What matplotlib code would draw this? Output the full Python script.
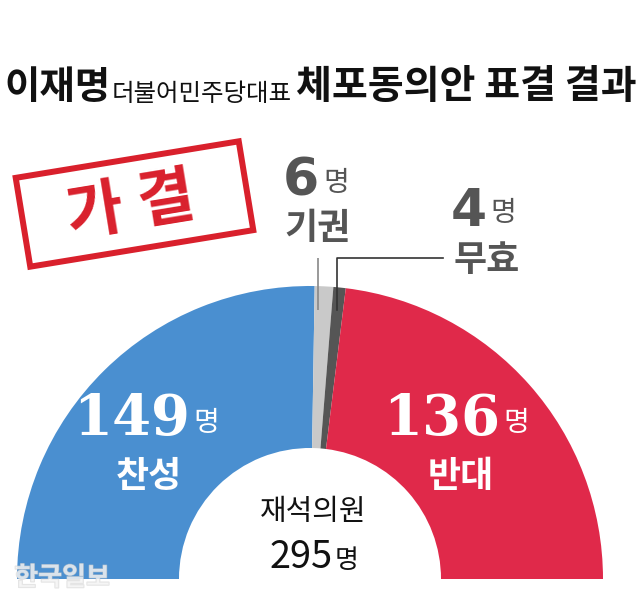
import matplotlib
matplotlib.use("Agg")
import matplotlib.pyplot as plt
from matplotlib.patches import Rectangle
import matplotlib.patheffects as pe

plt.rcParams['font.family'] = ['Noto Sans CJK KR', 'DejaVu Sans']

# ---- data ----
categories = ["찬성", "기권", "무효", "반대"]
votes = [149, 6, 4, 136]
total_present = 295
colors = ["#4a8fd0", "#c9c9c9", "#555555", "#e0294a"]

W, H = 640, 607
fig = plt.figure(figsize=(W / 100, H / 100), dpi=100)
ax = fig.add_axes([0, 0, 1, 1])

def Y(py):
    return H - py

def fs(px):
    return px * 72 / 100

# half donut: hidden lower half
cx, cy = 310, Y(579)
R, r = 293, 131
ax.pie(votes + [sum(votes)], colors=colors + ["none"], startangle=180,
       counterclock=False, radius=R, center=(cx, cy),
       wedgeprops=dict(width=R - r, edgecolor="none", linewidth=0), frame=True)
ax.set_xlim(0, W)
ax.set_ylim(0, H)
ax.set_aspect("equal")
ax.axis("off")

# ---- title ----
ty = Y(87)
ax.text(4, ty, "이재명", fontsize=fs(38.5), fontweight="black", color="#111111",
        ha="left", va="center")
ax.text(112, Y(94), "더불어민주당대표", fontsize=fs(24.5), fontweight="medium",
        color="#111111", ha="left", va="center")
ax.text(296, ty, "체포동의안 표결 결과", fontsize=fs(39), fontweight="black",
        color="#111111", ha="left", va="center")

# ---- stamp ----
stamp_c = "#d9202c"
rect = Rectangle((134.5 - 113, Y(204) - 45), 226, 90, angle=9.3,
                 rotation_point="center", fill=False, edgecolor=stamp_c,
                 linewidth=fs(6))
ax.add_patch(rect)
ax.text(94, Y(212), "가", fontsize=fs(62), fontweight="black", color=stamp_c,
        ha="center", va="center", rotation=9.3)
ax.text(166, Y(200), "결", fontsize=fs(62), fontweight="black", color=stamp_c,
        ha="center", va="center", rotation=9.3)

# ---- leader lines ----
ax.plot([318, 318], [Y(258), Y(310)], color="#888888", lw=1.2, solid_capstyle="butt")
ax.plot([443, 337, 337], [Y(258), Y(258), Y(310)], color="#333333", lw=1.2)

# ---- small labels ----
gray = "#555555"
ax.text(319, Y(182), str(votes[1]), fontsize=fs(52), fontweight="heavy",
        family="DejaVu Sans", color=gray, ha="right", va="center")
ax.text(323, Y(183), "명", fontsize=fs(28), color=gray, ha="left", va="center")
ax.text(318, Y(229), categories[1], fontsize=fs(36), fontweight="bold",
        color=gray, ha="center", va="center")

ax.text(487, Y(212), str(votes[2]), fontsize=fs(52), fontweight="heavy",
        family="DejaVu Sans", color=gray, ha="right", va="center")
ax.text(490, Y(213), "명", fontsize=fs(28), color=gray, ha="left", va="center")
ax.text(487, Y(260), categories[2], fontsize=fs(36), fontweight="bold",
        color=gray, ha="center", va="center")

# ---- big labels ----
ax.text(190, Y(420), str(votes[0]), fontsize=fs(56), fontweight="heavy",
        family="DejaVu Serif", color="white", ha="right", va="center")
ax.text(193, Y(423), "명", fontsize=fs(28), color="white", ha="left", va="center")
ax.text(149, Y(477), categories[0], fontsize=fs(36), fontweight="bold",
        color="white", ha="center", va="center")

ax.text(500, Y(420), str(votes[3]), fontsize=fs(56), fontweight="heavy",
        family="DejaVu Serif", color="white", ha="right", va="center")
ax.text(503, Y(423), "명", fontsize=fs(28), color="white", ha="left", va="center")
ax.text(461, Y(477), categories[3], fontsize=fs(36), fontweight="bold",
        color="white", ha="center", va="center")

# ---- centre ----
ax.text(313, Y(512), "재석의원", fontsize=fs(29), color="#111111",
        ha="center", va="center")
ax.text(333, Y(558), str(total_present), fontsize=fs(38), fontweight="medium",
        color="#111111", ha="right", va="center")
ax.text(335, Y(560), "명", fontsize=fs(26), color="#111111",
        ha="left", va="center")

# ---- watermark ----
ax.text(62, Y(578), "한국일보", fontsize=fs(26), fontweight="bold",
        color="#f4f4f4", ha="center", va="center", alpha=0.6,
        path_effects=[pe.withStroke(linewidth=1.0, foreground="#cfcfcf")])

fig.savefig("out.png", dpi=100, facecolor="white")
